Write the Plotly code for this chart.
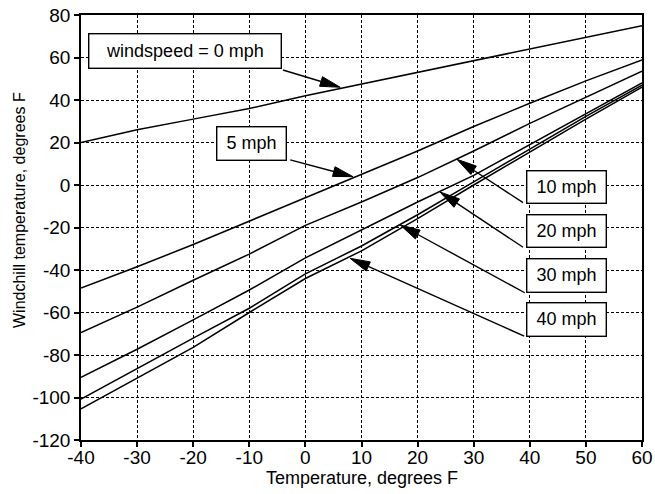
import math
import plotly.graph_objects as go

# ---- data ----
temps = [-40, -30, -20, -10, 0, 10, 20, 30, 40, 50, 60]
wc_0 = [20, 26, 31, 36, 42, 47.5, 53, 58.5, 64, 69.5, 75]
wc_5 = [-48.5, -38.5, -28, -17, -6, 5, 16, 27.5, 38.5, 49, 58.8]
wc_10 = [-69.5, -57.5, -44.8, -32.5, -19, -8, 3.5, 16, 29, 41.4, 53.6]
wc_20 = [-90.5, -77.3, -63.5, -49.4, -34.3, -21.2, -8, 4.5, 19, 33.7, 48.1]
wc_30 = [-100.8, -86.3, -72.1, -58, -41.8, -28.7, -14, 1.5, 17, 32.3, 47]
wc_40 = [-105.3, -90.7, -76.4, -60, -44, -31, -15.8, 0, 15.7, 31, 46]

series = [wc_0, wc_5, wc_10, wc_20, wc_30, wc_40]

x_ticks = [-40, -30, -20, -10, 0, 10, 20, 30, 40, 50, 60]
y_ticks = [-120, -100, -80, -60, -40, -20, 0, 20, 40, 60, 80]

# label boxes: text, centre (x, y), box size (px), arrow tail (x, y), arrow tip (x, y)
labels = [
    ("windspeed = 0 mph", (-21.5, 63.1), (194, 36), (-4.0, 54.1), (6.2, 46.0)),
    ("5 mph", (-9.6, 19.5), (71, 35), (-2.7, 11.8), (8.5, 3.9)),
    ("10 mph", (46.6, -0.9), (81, 34), (38.8, -8.3), (27.0, 12.1)),
    ("20 mph", (46.6, -21.5), (81, 34), (38.8, -29.3), (24.0, -3.3)),
    ("30 mph", (46.6, -42.4), (81, 35), (39.1, -50.7), (16.9, -18.8)),
    ("40 mph", (46.6, -63.2), (81, 35), (39.0, -71.1), (7.95, -34.5)),
]

# ---- layout geometry ----
W, H = 655, 494
ML, MR, MT, MB = 81, 13, 15, 54
XMIN, XMAX = -40, 60
YMIN, YMAX = -120, 80
SX = (W - ML - MR) / (XMAX - XMIN)
SY = (H - MT - MB) / (YMAX - YMIN)

FONT = "Liberation Sans, Arial, Helvetica, sans-serif"


def to_px(x, y):
    return ((x - XMIN) * SX, (YMAX - y) * SY)


def to_data(px, py):
    return (px / SX + XMIN, YMAX - py / SY)


fig = go.Figure()
for s in series:
    fig.add_trace(go.Scatter(x=temps, y=s, mode="lines",
                             line=dict(color="black", width=1.5),
                             showlegend=False, hoverinfo="skip"))

shapes = []
annotations = []
HEAD_L, HEAD_W = 20, 5
for text, (cx, cy), (bw, bh), tail, tip in labels:
    annotations.append(dict(
        x=cx, y=cy, xref="x", yref="y", text=text, showarrow=False,
        font=dict(family=FONT, size=18, color="black"),
        bgcolor="white", bordercolor="black", borderwidth=1.4,
        borderpad=0, width=bw - 3, height=bh - 3,
        xanchor="center", yanchor="middle"))
    tx, ty = to_px(*tail)
    hx, hy = to_px(*tip)
    dx, dy = hx - tx, hy - ty
    d = math.hypot(dx, dy)
    ux, uy = dx / d, dy / d
    nx, ny = -uy, ux
    bx, by = hx - HEAD_L * ux, hy - HEAD_L * uy
    c1 = to_data(bx + HEAD_W * nx, by + HEAD_W * ny)
    c2 = to_data(bx - HEAD_W * nx, by - HEAD_W * ny)
    base = to_data(bx, by)
    shapes.append(dict(type="line", xref="x", yref="y",
                       x0=tail[0], y0=tail[1], x1=base[0], y1=base[1],
                       line=dict(color="black", width=1.4)))
    shapes.append(dict(type="path", xref="x", yref="y",
                       path=f"M {tip[0]},{tip[1]} L {c1[0]},{c1[1]} L {c2[0]},{c2[1]} Z",
                       fillcolor="black", line=dict(color="black", width=1)))

# axis titles
annotations.append(dict(
    x=(362 - ML) / (W - ML - MR), y=-(478 - (H - MB)) / (H - MT - MB),
    xref="paper", yref="paper", text="Temperature, degrees F", showarrow=False,
    font=dict(family=FONT, size=18, color="black"),
    xanchor="center", yanchor="middle"))
annotations.append(dict(
    x=(19 - ML) / (W - ML - MR), y=((H - MB) - 210) / (H - MT - MB),
    xref="paper", yref="paper", text="Windchill temperature, degrees F",
    showarrow=False, textangle=-90,
    font=dict(family=FONT, size=16, color="black"),
    xanchor="center", yanchor="middle"))

axis_common = dict(
    showline=True, linecolor="black", linewidth=1.5, mirror=True,
    ticks="outside", ticklen=5, tickwidth=1.5, tickcolor="black",
    showgrid=True, gridcolor="black", gridwidth=1.2, griddash="3px,2px",
    zeroline=False, automargin=False,
    tickfont=dict(family=FONT, size=19, color="black"),
)

fig.update_layout(
    width=W, height=H,
    margin=dict(l=ML, r=MR, t=MT, b=MB, pad=0),
    paper_bgcolor="white", plot_bgcolor="white",
    xaxis=dict(range=[XMIN, XMAX], tickvals=x_ticks,
               ticktext=[str(v) for v in x_ticks], ticklabelstandoff=-6,
               **axis_common),
    yaxis=dict(range=[YMIN, YMAX], tickvals=y_ticks,
               ticktext=[str(v) for v in y_ticks], **axis_common),
    shapes=shapes, annotations=annotations,
    font=dict(family=FONT, color="black"),
)

fig.write_html("out.html")
